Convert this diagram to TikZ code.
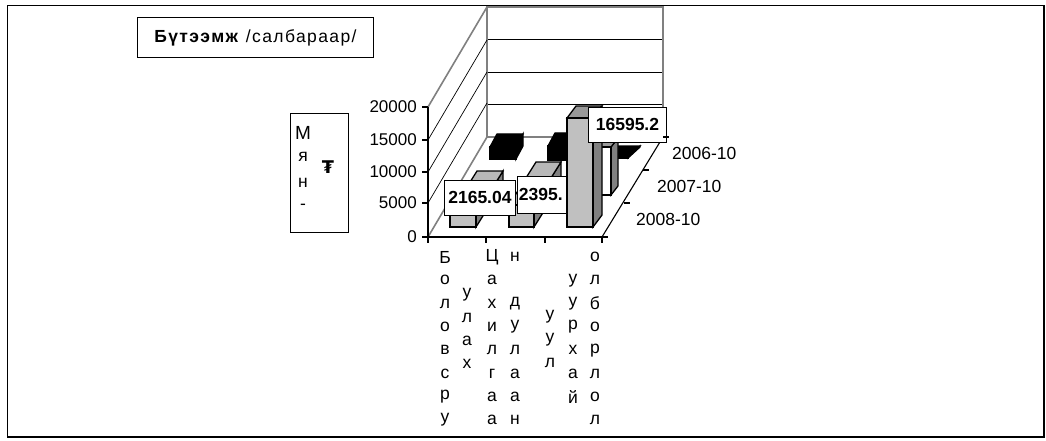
\documentclass[tikz,border=0pt]{standalone}
\usepackage{fontspec}
\setmainfont{Liberation Sans}
\newfontfamily\dejavu{DejaVu Sans}
\newfontfamily\spaced[LetterSpace=8]{Liberation Sans}
\definecolor{barfront}{HTML}{C0C0C0}
\definecolor{bartop}{HTML}{B8B8B8}
\definecolor{bartopdark}{HTML}{999999}
\definecolor{barside}{HTML}{808080}
\definecolor{wallgray}{HTML}{808080}
\newcommand{\mybar}[9]{%
  \filldraw[barl, fill=#9] (#2,#4) -- (#2+#5,#4-#6) -- (#2+#5,#3-#6) -- (#2,#3) -- cycle;
  \filldraw[barl, fill=#8] (#1,#3) -- (#1+#5,#3-#6) -- (#2+#5,#3-#6) -- (#2,#3) -- cycle;
  \filldraw[barl, fill=#7] (#1,#3) rectangle (#2,#4);
}
\begin{document}
\begin{tikzpicture}[x=1pt,y=-1pt,line join=miter]
\tikzset{
  wallg/.style={draw=wallgray, line width=1.6pt},
  gridl/.style={draw=black, line width=0.7pt},
  axl/.style={draw=black, line width=1.1pt},
  tk/.style={font=\fontsize{17}{19}\selectfont, inner sep=1pt},
  ch/.style={font=\fontsize{17.5}{19}\selectfont, inner sep=0pt},
  valbox/.style={draw=black, fill=white, line width=0.9pt, font=\bfseries\fontsize{17.5}{20}\selectfont, inner sep=0pt},
  barl/.style={draw=black, line width=1.3pt},
  titlebox/.style={draw=black, line width=0.9pt, fill=white, inner sep=0pt}
}
\useasboundingbox (0,0) rectangle (1046,441);
\fill[white] (0,0) rectangle (1046,441);
\draw[line width=1.6pt] (7.5,5.5) rectangle (1044,437);

% title
\node[titlebox, minimum width=236, minimum height=40, anchor=north west] (title) at (137,17) {};
\node[font=\spaced\fontsize{17.5}{19}\selectfont, inner sep=0pt] (titletext) at (title.center) {\textbf{Бүтээмж} /салбараар/};

% y-axis title box
\node[titlebox, minimum width=58, minimum height=119, anchor=north west] (ybox) at (290,113) {};
\node[ch, font=\fontsize{19}{20}\selectfont] (yt1) at (303,133) {М};
\node[ch] (yt2) at (303,157) {я};
\node[ch] (yt3) at (303,183) {н};
\node[ch] (yt4) at (303,207) {-};
\node[ch] (yt5) at (328,167) {\dejavu\bfseries ₮};

% back wall
\foreach \gy in {39,72,104} \draw[gridl] (487,\gy) -- (663,\gy);
\draw[wallg] (487,137) -- (487,7) -- (663,7) -- (663,137);
% left wall
\foreach \gy in {140,172,203} \draw[gridl] (428,\gy) -- (487,\gy-100);
\draw[wallg] (428,107) -- (487,7);
% floor
\draw[wallg] (428,237) -- (487,137) -- (663,137);
\draw[axl] (602,237) -- (663,137);

% back row (2006-10)
\mybar{490}{516}{147}{159}{7}{13}{black}{black}{black}
\mybar{548}{574}{146}{160}{7}{13}{black}{black}{black}
\mybar{600}{628}{157}{158}{12}{11}{black}{black}{black}
% middle row (2007-10)
\mybar{588}{611}{147}{195}{7}{9}{white}{bartopdark}{barside}
% front row (2008-10)
\mybar{450}{476}{214}{227}{27}{43}{barfront}{bartop}{barside}
\mybar{509}{534}{205}{227}{27}{43}{barfront}{bartop}{barside}

\node[valbox, minimum width=71, minimum height=35, anchor=north west] (v1) at (444,180) {2165.04};
\node[valbox, minimum height=37, anchor=north west, text width=66, align=left, inner xsep=1.5pt] (v2) at (517,176) {2395.};

\mybar{567}{593}{118}{227}{9}{12}{barfront}{bartopdark}{barside}

\node[valbox, minimum width=78, minimum height=35, anchor=north west] (v3) at (588,107) {16595.2};

% axes
\draw[axl] (428,107) -- (428,237) -- (602,237);
\foreach \v/\yy in {0/237,5000/203,10000/172,15000/140,20000/107} {
  \draw[axl] (422,\yy) -- (428,\yy);
  \node[tk, anchor=east] (yl\v) at (418,\yy) {\v};
}
\foreach \xx in {428,486,545,602} \draw[axl] (\xx,237) -- (\xx,243);
\draw[axl] (603,237) -- (608,237);
\draw[axl] (624,203) -- (630,203);
\draw[axl] (643,170) -- (649,170);
\draw[axl] (663,137) -- (669,137);
\node[tk, font=\fontsize{17.5}{19}\selectfont, anchor=west] (d1) at (671,153) {2006-10};
\node[tk, font=\fontsize{17.5}{19}\selectfont, anchor=west] (d2) at (656,186) {2007-10};
\node[tk, font=\fontsize{17.5}{19}\selectfont, anchor=west] (d3) at (635,219) {2008-10};

% category labels (vertical letters)
\foreach \c [count=\i] in {Б,о,л,о,в,с,р,у} \node[ch] (ca\i) at (445,{257+23.3*(\i-1)}) {\c};
\foreach \c [count=\i] in {у,л,а,х} \node[ch] (cb\i) at (467,{295+23*(\i-1)}) {\c};
\foreach \c [count=\i] in {Ц,а,х,и,л,г,а,а} \node[ch] (cc\i) at (492,{257+23.3*(\i-1)}) {\c};
\node[ch] (cd1) at (515,257) {н};
\foreach \c [count=\i] in {д,у,л,а,а,н} \node[ch] (cd\i x) at (515,{303.6+23.3*(\i-1)}) {\c};
\foreach \c [count=\i] in {у,у,л} \node[ch] (ce\i) at (550,{317+23*(\i-1)}) {\c};
\foreach \c [count=\i] in {у,у,р,х,а,й} \node[ch] (cf\i) at (573,{280.3+23.3*(\i-1)}) {\c};
\foreach \c [count=\i] in {о,л,б,о,р,л,о,л} \node[ch] (cg\i) at (595,{257+23.3*(\i-1)}) {\c};
\end{tikzpicture}
\end{document}
